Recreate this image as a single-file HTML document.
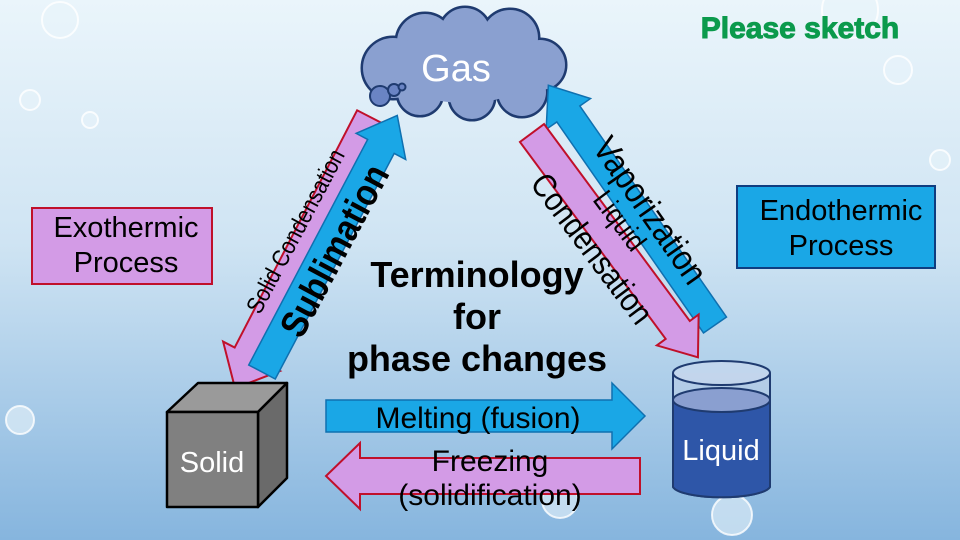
<!DOCTYPE html>
<html><head><meta charset="utf-8"><style>
html,body{margin:0;padding:0;width:960px;height:540px;overflow:hidden}
svg{display:block;font-family:"Liberation Sans",Arial,sans-serif}
</style></head><body>
<svg width="960" height="540" viewBox="0 0 960 540" xmlns="http://www.w3.org/2000/svg">
<defs>
<linearGradient id="bg" x1="0" y1="0" x2="0" y2="1">
<stop offset="0" stop-color="#eaf5fb"/><stop offset="0.45" stop-color="#cfe4f3"/><stop offset="1" stop-color="#86b5de"/>
</linearGradient>
</defs>
<rect width="960" height="540" fill="url(#bg)"/>
<g fill="#e8f3fa" fill-opacity="0.6" stroke="#ffffff" stroke-opacity="0.8" stroke-width="2">
<circle cx="850" cy="10" r="28"/><circle cx="898" cy="70" r="14"/><circle cx="940" cy="160" r="10"/>
<circle cx="60" cy="20" r="18"/><circle cx="30" cy="100" r="10"/><circle cx="90" cy="120" r="8"/>
<circle cx="732" cy="515" r="20"/><circle cx="560" cy="500" r="18"/><circle cx="20" cy="420" r="14"/>
</g>
<g stroke="#1f3b70" stroke-width="5" fill="#8aa0d0">
<circle cx="393" cy="68" r="30"/><circle cx="425" cy="42" r="28"/><circle cx="465" cy="33" r="25"/><circle cx="510" cy="38" r="28"/><circle cx="540" cy="65" r="25"/><circle cx="522" cy="92" r="24"/><circle cx="472" cy="97" r="22"/><circle cx="420" cy="93" r="22"/>
</g>
<g fill="#8aa0d0">
<circle cx="393" cy="68" r="30"/><circle cx="425" cy="42" r="28"/><circle cx="465" cy="33" r="25"/><circle cx="510" cy="38" r="28"/><circle cx="540" cy="65" r="25"/><circle cx="522" cy="92" r="24"/><circle cx="472" cy="97" r="22"/><circle cx="420" cy="93" r="22"/>
<ellipse cx="465" cy="65" rx="75" ry="38"/>
</g>
<g stroke="#1f3b70" stroke-width="2" fill="#6a84c4">
<circle cx="380" cy="96" r="10"/><circle cx="394" cy="90" r="6"/><circle cx="402" cy="87" r="3.5"/>
</g>
<text x="456" y="81" font-size="38" fill="#fff" text-anchor="middle">Gas</text>

<text x="800" y="38" font-size="30" font-weight="bold" fill="#0b9a4c" stroke="#0b9a4c" stroke-width="1" text-anchor="middle">Please sketch</text>

<g transform="translate(374,119) rotate(117.3)">
<polygon points="0,-19 267,-19 267,-32 303,0 267,32 267,19 0,19" fill="#d39be6" stroke="#c0102a" stroke-width="2"/>
</g>
<g transform="translate(262,372) rotate(-62.2)">
<polygon points="0,-15 255,-15 255,-28 290,0 255,28 255,15 0,15" fill="#1aa7e6" stroke="#0f70b0" stroke-width="1.5"/>
</g>
<text transform="translate(297,232) rotate(-62) scale(1,1.15)" font-size="21" text-anchor="middle" dominant-baseline="middle">Solid Condensation</text>
<text transform="translate(337,252) rotate(-62) scale(1,1.15)" font-size="33" font-weight="bold" text-anchor="middle" dominant-baseline="middle">Sublimation</text>

<g transform="translate(715,325) rotate(-124.8)">
<polygon points="0,-14 257,-14 257,-27 292,0 257,27 257,14 0,14" fill="#1aa7e6" stroke="#0f70b0" stroke-width="1.5"/>
</g>
<g transform="translate(532,133) rotate(53.5)">
<polygon points="0,-15 245,-15 245,-26 279,0 245,26 245,15 0,15" fill="#d39be6" stroke="#c0102a" stroke-width="2"/>
</g>
<text transform="translate(648,212) rotate(55) scale(1,1.15)" font-size="31" text-anchor="middle" dominant-baseline="middle">Vaporization</text>
<text transform="translate(618,222) rotate(53) scale(1,1.15)" font-size="25" text-anchor="middle" dominant-baseline="middle">Liquid</text>
<text transform="translate(590,250) rotate(53) scale(1,1.15)" font-size="29" text-anchor="middle" dominant-baseline="middle">Condensation</text>

<g font-size="36" font-weight="bold" text-anchor="middle">
<text x="477" y="287">Terminology</text>
<text x="477" y="329">for</text>
<text x="477" y="371">phase changes</text>
</g>

<rect x="32" y="208" width="180" height="76" fill="#d39be6" stroke="#c0102a" stroke-width="2"/>
<text x="126" y="237" font-size="29" text-anchor="middle">Exothermic</text>
<text x="126" y="272" font-size="29" text-anchor="middle">Process</text>
<rect x="737" y="186" width="198" height="82" fill="#1aa7e6" stroke="#0f3d80" stroke-width="2"/>
<text x="841" y="220" font-size="29" text-anchor="middle">Endothermic</text>
<text x="841" y="255" font-size="29" text-anchor="middle">Process</text>

<g stroke="#000" stroke-width="2.5" stroke-linejoin="round">
<polygon points="167,412 198,383 287,383 258,412" fill="#9a9a9a"/>
<polygon points="258,412 287,383 287,478 258,507" fill="#6a6a6a"/>
<rect x="167" y="412" width="91" height="95" fill="#808080"/>
</g>
<text x="212" y="472" font-size="29" fill="#fff" text-anchor="middle">Solid</text>

<g stroke="#1f3b70" stroke-width="2">
<path d="M673,373 L673,487 A49,12 0 0 0 770,487 L770,373" fill="#b7cbe6" fill-opacity="0.6"/>
<path d="M673,400 L673,487 A49,12 0 0 0 770,487 L770,400" fill="#2e56a8"/>
<ellipse cx="721.5" cy="400" rx="48.5" ry="12" fill="#8a9fd0"/>
<ellipse cx="721.5" cy="373" rx="48.5" ry="12" fill="#c9d9ee" fill-opacity="0.7"/>
</g>
<text x="721" y="460" font-size="29" fill="#fff" text-anchor="middle">Liquid</text>

<polygon points="326,400 612,400 612,383 645,416 612,449 612,432 326,432" fill="#1aa7e6" stroke="#0f70b0" stroke-width="1.5"/>
<polygon points="640,458 360,458 360,443 326,476 360,509 360,494 640,494" fill="#d39be6" stroke="#c0102a" stroke-width="2"/>
<g font-size="30" text-anchor="middle">
<text x="478" y="428">Melting (fusion)</text>
<text x="490" y="471">Freezing</text>
<text x="490" y="505">(solidification)</text>
</g>
</svg>
</body></html>
